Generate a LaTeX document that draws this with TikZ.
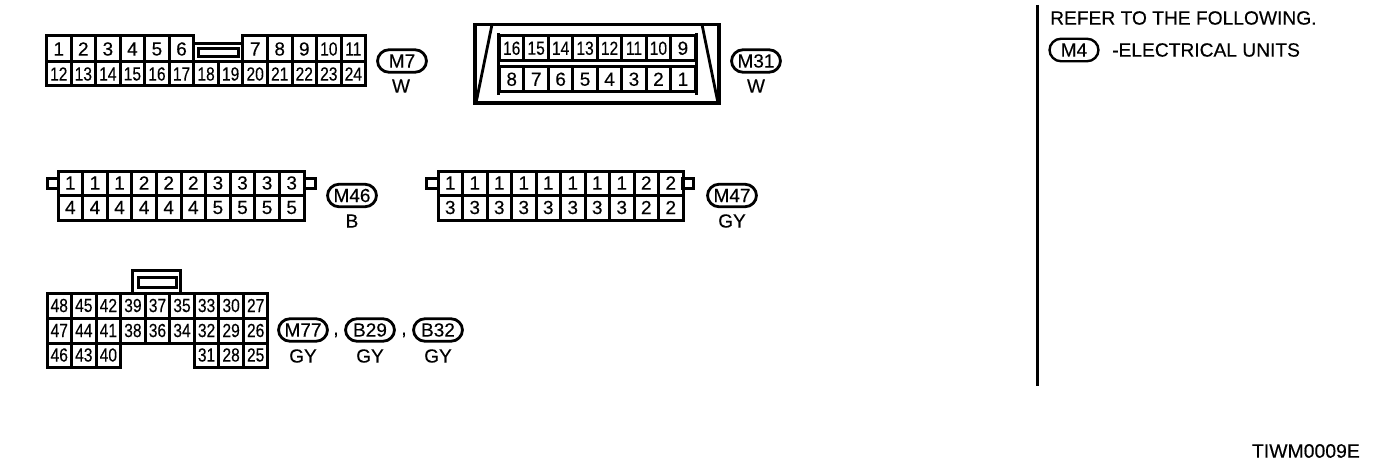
\documentclass[tikz,border=0pt]{standalone}
\usepackage{graphicx}
\usepackage{fontspec}
\setmainfont{Liberation Sans}[FakeBold=0.25]
\newcommand\numlab[1]{\ifnum#1>9 \scalebox{0.82}[1]{#1}\else #1\fi}
\newcommand\conrow[7]{% prefix, first col offset, x0, w, top, bottom, list
  \foreach \lab [count=\k from 0] in {#7} {
    \pgfmathsetmacro\cx{#3+(#2+\k+0.5)*#4}
    \pgfmathsetmacro\cy{(#5+#6)/2}
    \pgfmathsetmacro\ch{#6-#5}
    \node[cellbox,minimum width=#4pt,minimum height=\ch pt] (#1\k) at (\cx,\cy) {\numlab{\lab}};
  }}
\tikzset{
  cellbox/.style={draw=black,line width=3pt,inner sep=0pt,font=\fontsize{19}{19}\selectfont},
  oval/.style={draw=black,line width=2.8pt,rounded corners=11.5pt,inner sep=0pt,minimum width=49pt,minimum height=22.5pt,font=\fontsize{19}{19}\selectfont},
  lab/.style={inner sep=0pt,font=\fontsize{19}{19}\selectfont},
  wire/.style={line width=3pt,line cap=rect},
  thick line/.style={line width=3pt}
}
\begin{document}
\begin{tikzpicture}[x=1pt,y=-1pt]
\useasboundingbox (0,0) rectangle (1392,476);
% M7
\conrow{ma}{0}{46.5}{24.55}{36}{62}{1,2,3,4,5,6}
\conrow{mb}{8}{46.5}{24.55}{36}{62}{7,8,9,10,11}
\conrow{mc}{0}{46.5}{24.55}{62}{86}{12,13,14,15,16,17,18,19,20,21,22,23,24}
\draw[wire] (195,44) -- (241,44);
\draw[wire] (198,49) rectangle (238,56.5);
\node[oval] (M7) at (402,61) {M7};
\node[lab] (M7c) at (401,86) {W};
% M31
\draw[line width=3.4pt] (475,24.5) rectangle (719,103);
\draw[line width=2.8pt] (492,24.5) -- (476,103);
\draw[line width=2.8pt] (702,24.5) -- (718,103);
\conrow{oa}{0}{499.5}{24.45}{36}{60.5}{16,15,14,13,12,11,10,9}
\conrow{ob}{0}{499.5}{24.45}{66.5}{92}{8,7,6,5,4,3,2,1}
\draw[wire] (oa0.north west) -- (ob0.south west);
\draw[wire] (oa7.north east) -- (ob7.south east);
\node[oval] (M31) at (756,61) {M31};
\node[lab] (M31c) at (756,86) {W};
% M46
\draw[wire] (47,178.5) rectangle (58,188);
\draw[wire] (304,178.5) rectangle (315,188);
\conrow{pa}{0}{58}{24.6}{171}{195}{1,1,1,2,2,2,3,3,3,3}
\conrow{pb}{0}{58}{24.6}{195}{220}{4,4,4,4,4,4,5,5,5,5}
\node[oval] (M46) at (352,195.5) {M46};
\node[lab] (M46c) at (352,221) {B};
% M47
\draw[wire] (426,178.5) rectangle (438,188);
\draw[wire] (682,178.5) rectangle (693,188);
\conrow{qa}{0}{438}{24.5}{171}{195}{1,1,1,1,1,1,1,1,2,2}
\conrow{qb}{0}{438}{24.5}{195}{220}{3,3,3,3,3,3,3,3,2,2}
\node[oval] (M47) at (732,195.5) {M47};
\node[lab] (M47c) at (732,221) {GY};
% M77
\draw[wire] (132,270.5) rectangle (180,293);
\draw[wire] (138,277) rectangle (176,287);
\conrow{ra}{0}{47}{24.55}{293}{318}{48,45,42,39,37,35,33,30,27}
\conrow{rb}{0}{47}{24.55}{318}{343}{47,44,41,38,36,34,32,29,26}
\conrow{rc}{0}{47}{24.55}{343}{367}{46,43,40}
\conrow{rd}{6}{47}{24.55}{343}{367}{31,28,25}
\node[oval] (M77) at (303,330) {M77};
\node[lab] (M77c) at (303,356) {GY};
\node[lab] (c1) at (336,335) {,};
\node[oval] (B29) at (370,330) {B29};
\node[lab] (B29c) at (370,356) {GY};
\node[lab] (c2) at (404,335) {,};
\node[oval] (B32) at (438,330) {B32};
\node[lab] (B32c) at (438,356) {GY};
% Right panel
\draw[thick line] (1037,5) -- (1037,386);
\node[lab,anchor=west,font=\fontsize{19.2}{19.2}\selectfont] (refer) at (1050,18) {REFER TO THE FOLLOWING.};
\node[oval,line width=2.4pt] (M4) at (1074,50) {M4};
\node[lab,anchor=west,font=\fontsize{19.2}{19.2}\selectfont] (units) at (1112,50) {-ELECTRICAL UNITS};
\node[lab,anchor=east,font=\fontsize{19.4}{19.4}\selectfont] (code) at (1360,451) {TIWM0009E};
\end{tikzpicture}
\end{document}
